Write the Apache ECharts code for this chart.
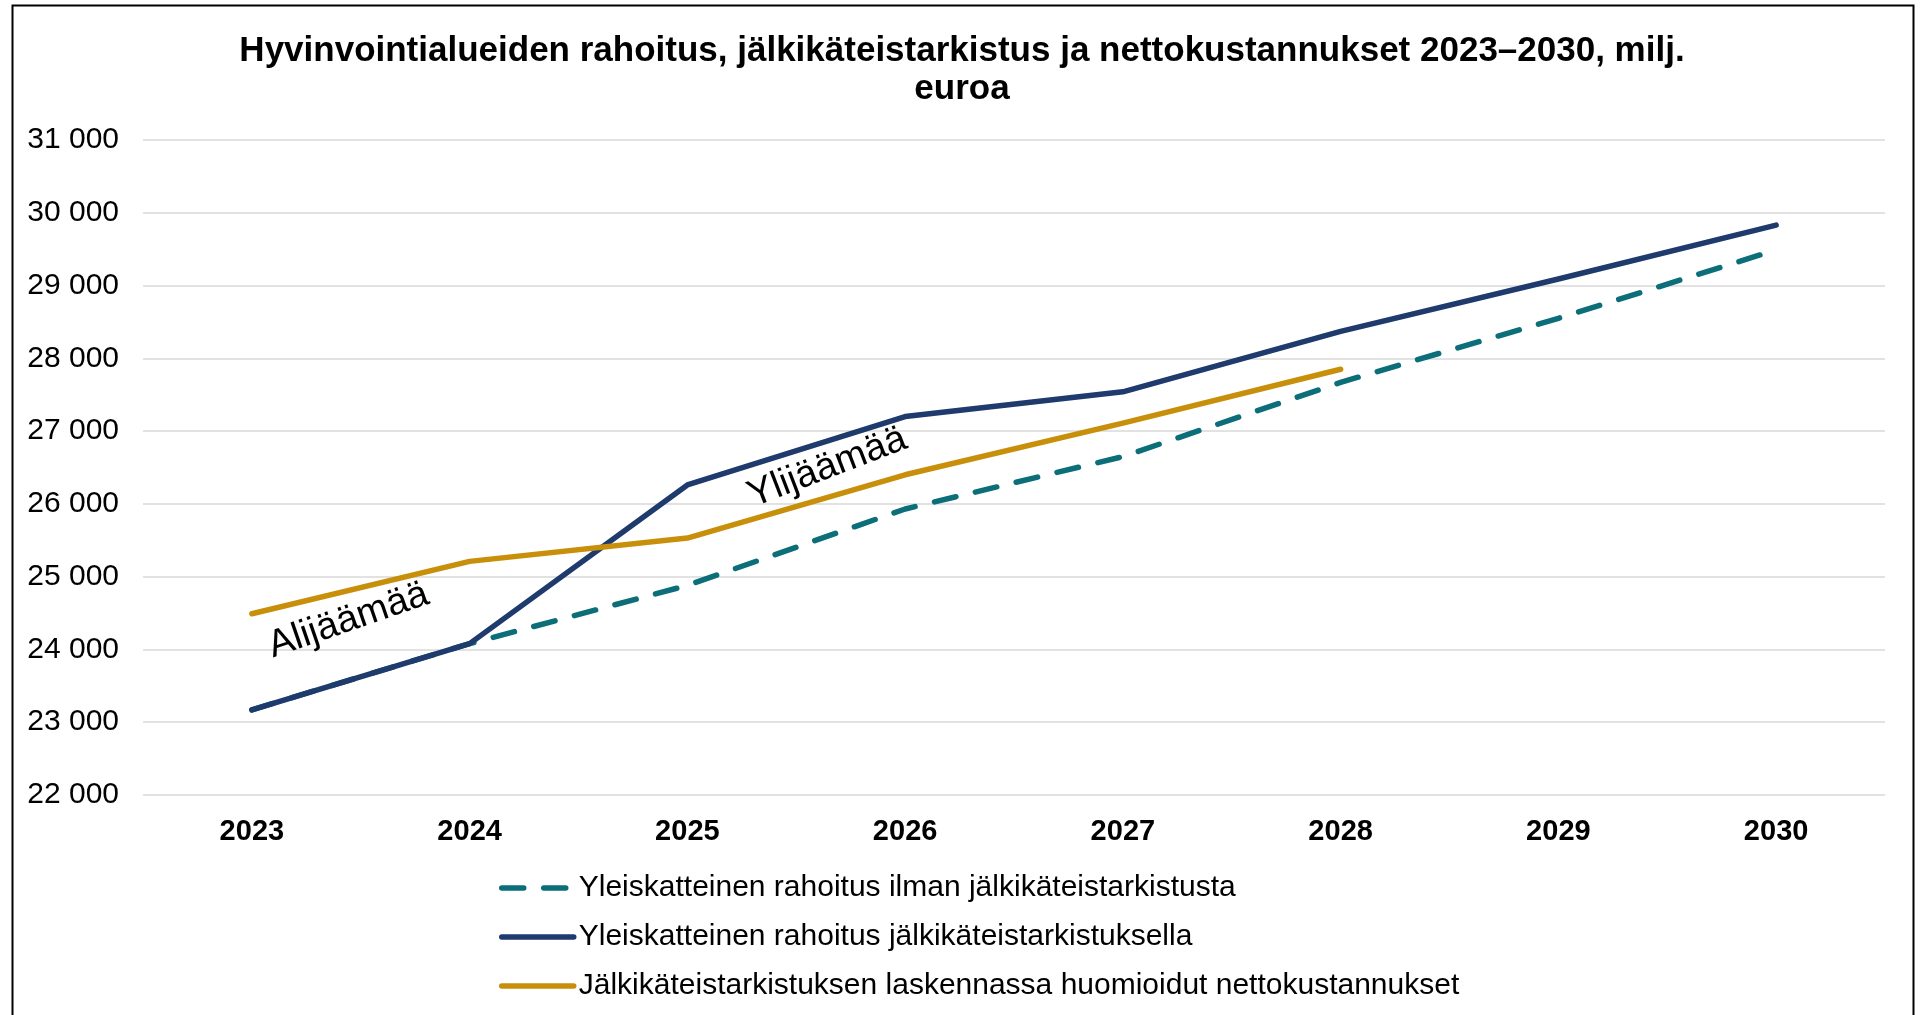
<!DOCTYPE html>
<html>
<head>
<meta charset="utf-8">
<script src="https://cdn.jsdelivr.net/npm/echarts@6/dist/echarts.min.js"></script>
<style>
  html, body { margin: 0; padding: 0; background: #fff; }
  #chart { width: 1924px; height: 1015px; }
</style>
</head>
<body>
<div id="chart"></div>
<script>
var years = ['2023', '2024', '2025', '2026', '2027', '2028', '2029', '2030'];
var ilmanTarkistusta = [23170, 24080, 24880, 25930, 26650, 27670, 28550, 29490];
var tarkistuksella = [23170, 24080, 26260, 27200, 27540, 28370, 29090, 29830];
var nettokustannukset = [24490, 25210, 25530, 26400, 27110, 27850, null, null];
var yTicks = { min: 22000, max: 31000, step: 1000 };

var seriesNames = [
    'Yleiskatteinen rahoitus ilman jälkikäteistarkistusta',
    'Yleiskatteinen rahoitus jälkikäteistarkistuksella',
    'Jälkikäteistarkistuksen laskennassa huomioidut nettokustannukset'
];

// tekstit kuvan sisällä: [kategoria-indeksi (murto-osa), arvo, kiertokulma]
var notes = [
    { text: 'Alijäämää', at: 0.444, value: 24400, rotate: 19 },
    { text: 'Ylijäämää', at: 2.643, value: 26500, rotate: 21 }
];

var font = 'Arial, "Liberation Sans", sans-serif';
var teal = '#0B6E78', navy = '#1F3A6D', gold = '#C8900A';

var chart = echarts.init(document.getElementById('chart'));
chart.setOption({
    animation: false,
    title: {
        text: 'Hyvinvointialueiden rahoitus, jälkikäteistarkistus ja nettokustannukset 2023–2030, milj.\neuroa',
        left: 'center',
        top: 32,
        padding: 0,
        textStyle: {
            fontFamily: font,
            fontSize: 35,
            fontWeight: 'bold',
            color: '#000',
            lineHeight: 38
        }
    },
    legend: {
        orient: 'vertical',
        left: 494,
        top: 868,
        height: 300,
        itemWidth: 72,
        itemHeight: 24,
        itemGap: 19,
        itemStyle: { opacity: 0 },
        data: [
            { name: seriesNames[0], lineStyle: { color: teal, width: 5.5, type: [22, 20], cap: 'round' } },
            { name: seriesNames[1], lineStyle: { color: navy, width: 5.5, cap: 'round' } },
            { name: seriesNames[2], lineStyle: { color: gold, width: 5.5, cap: 'round' } }
        ],
        textStyle: { fontFamily: font, fontSize: 30, color: '#000' }
    },
    grid: { left: 143, right: 39, top: 140, bottom: 220 },
    xAxis: {
        type: 'category',
        data: years,
        axisLine: { show: false },
        axisTick: { show: false },
        axisLabel: {
            fontFamily: font, fontSize: 29, fontWeight: 'bold', color: '#000', margin: 22
        }
    },
    yAxis: {
        type: 'value',
        min: yTicks.min,
        max: yTicks.max,
        interval: yTicks.step,
        axisLabel: {
            fontFamily: font, fontSize: 30, color: '#000', margin: 24,
            formatter: function (v) { return String(v).replace(/\B(?=(\d{3})+(?!\d))/g, ' '); }
        },
        splitLine: { lineStyle: { color: '#d9d9d9', width: 1.5 } }
    },
    series: [
        {
            name: seriesNames[0],
            type: 'line',
            data: ilmanTarkistusta,
            symbol: 'none',
            color: teal,
            lineStyle: { width: 5.5, type: [22, 20], cap: 'round' }
        },
        {
            name: seriesNames[1],
            type: 'line',
            data: tarkistuksella,
            symbol: 'none',
            color: navy,
            lineStyle: { width: 5.5, cap: 'round', join: 'round' }
        },
        {
            name: seriesNames[2],
            type: 'line',
            data: nettokustannukset,
            symbol: 'none',
            color: gold,
            lineStyle: { width: 5.5, cap: 'round', join: 'round' }
        }
    ]
});

// kehys ja tekstit
function notePos(n) {
    var i = Math.floor(n.at), f = n.at - i;
    var a = chart.convertToPixel({ gridIndex: 0 }, [i, n.value]);
    var b = chart.convertToPixel({ gridIndex: 0 }, [i + 1, n.value]);
    return [a[0] + (b[0] - a[0]) * f, a[1]];
}

var graphics = [{
    type: 'rect',
    shape: { x: 12.5, y: 5.5, width: 1901, height: 1100 },
    style: { fill: null, stroke: '#000', lineWidth: 2 },
    silent: true
}];
notes.forEach(function (n) {
    var p = notePos(n);
    graphics.push({
        type: 'text',
        x: p[0],
        y: p[1],
        rotation: n.rotate * Math.PI / 180,
        style: {
            text: n.text,
            fontFamily: font,
            fontSize: 38,
            fill: '#000',
            align: 'center',
            verticalAlign: 'middle'
        },
        silent: true
    });
});
chart.setOption({ graphic: graphics });
</script>
</body>
</html>
